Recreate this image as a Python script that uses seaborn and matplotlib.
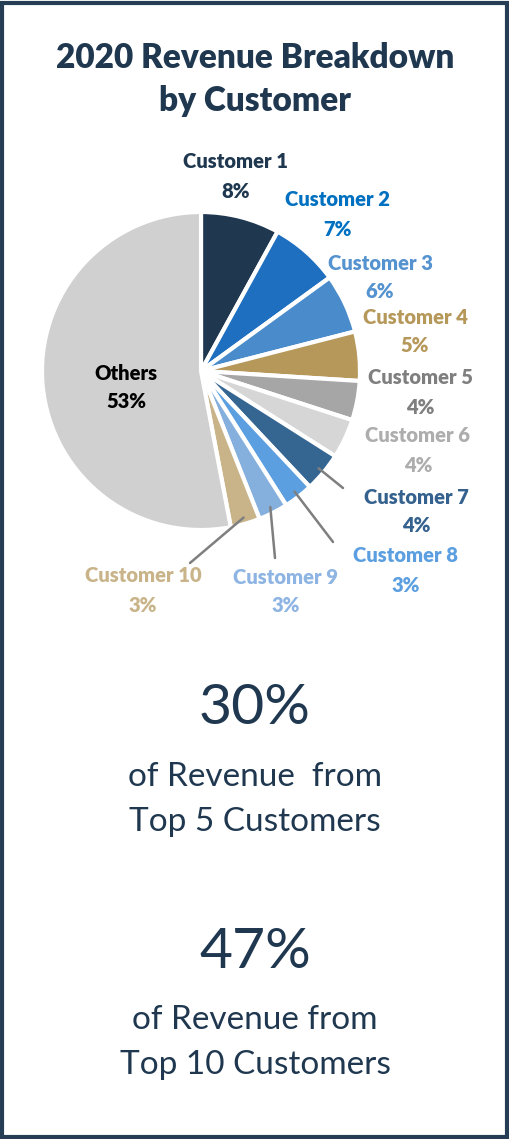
import numpy as np
import matplotlib
matplotlib.use("Agg")
import matplotlib.pyplot as plt
import seaborn as sns

# Data
customers = ["Customer 1", "Customer 2", "Customer 3", "Customer 4", "Customer 5",
             "Customer 6", "Customer 7", "Customer 8", "Customer 9", "Customer 10", "Others"]
shares = [8, 7, 6, 5, 4, 4, 4, 3, 3, 3, 53]
top5_share = "30%"
top10_share = "47%"

wedge_colors = ["#1F3850", "#1F6FC0", "#4A8CCB", "#B5985A", "#A6A6A6", "#D6D6D6",
                "#356591", "#5B9FE0", "#85B0DD", "#C9B48A", "#D0D0D0"]
label_colors = ["#1F3850", "#0070C0", "#5592D0", "#B5985A", "#7F7F7F", "#ADADAD",
                "#34618E", "#5B9FE0", "#8DB4E2", "#C9B48A", "#000000"]

sns.set_theme(style="white")
plt.rcParams["font.family"] = ["Lato", "DejaVu Sans"]

W, H = 510, 1139
navy = "#1F3850"
fig = plt.figure(figsize=(W / 100, H / 100), dpi=100)
ax = fig.add_axes([0, 0, 1, 1])

def Y(y):
    return H - y

# pie
cx, cy, r = 201, Y(371), 159
ax.pie(shares, colors=wedge_colors, startangle=90, counterclock=False,
       center=(cx, cy), radius=r, frame=True,
       wedgeprops=dict(edgecolor="white", linewidth=3))
ax.set_xlim(0, W)
ax.set_ylim(0, H)
ax.set_aspect("equal")
ax.axis("off")

# frame
ax.add_patch(plt.Rectangle((2.5, 2.5), W - 5, H - 5, fill=False, edgecolor="#253D55", lw=3))

# title
ax.text(W / 2, Y(58), "2020 Revenue Breakdown", ha="center", va="center",
        fontsize=24, fontweight="heavy", color=navy)
ax.text(W / 2, Y(101), "by Customer", ha="center", va="center",
        fontsize=24, fontweight="heavy", color=navy)

# label positions (pixel layout)
label_pos = [(236, 162), (337, 200), (380, 263), (415, 317), (420, 378),
             (418, 436), (416, 497), (406, 556), (286, 577), (143, 576), (126, 373)]
for name, val, col, (lx, ly) in zip(customers, shares, label_colors, label_pos):
    ax.text(lx, Y(ly), name, ha="center", va="center", fontsize=14.5,
            fontweight="heavy", color=col)
    ax.text(lx, Y(ly + 29), f"{val}%", ha="center", va="center", fontsize=14.5,
            fontweight="heavy", color=col)

# leader lines for customers 7-10
leader_end = {6: (343, 488), 7: (333, 542), 8: (275, 558), 9: (190, 563)}
cum = np.cumsum([0] + shares[:-1])
for i, (ex, ey) in leader_end.items():
    mid = cum[i] + shares[i] / 2
    ang = np.deg2rad(90 - mid / 100 * 360)
    sx, sy = cx + 0.96 * r * np.cos(ang), cy + 0.96 * r * np.sin(ang)
    ax.plot([sx, ex], [sy, Y(ey)], color="#7F7F7F", lw=1.8)

# summary text
ax.text(W / 2, Y(708), top5_share, ha="center", va="center", fontsize=41, color=navy)
ax.text(W / 2, Y(777), "of Revenue  from", ha="center", va="center", fontsize=24, color=navy)
ax.text(W / 2, Y(822), "Top 5 Customers", ha="center", va="center", fontsize=24, color=navy)
ax.text(W / 2, Y(952), top10_share, ha="center", va="center", fontsize=41, color=navy)
ax.text(W / 2, Y(1020), "of Revenue from", ha="center", va="center", fontsize=24, color=navy)
ax.text(W / 2, Y(1065), "Top 10 Customers", ha="center", va="center", fontsize=24, color=navy)

fig.savefig("out.png", dpi=100)
